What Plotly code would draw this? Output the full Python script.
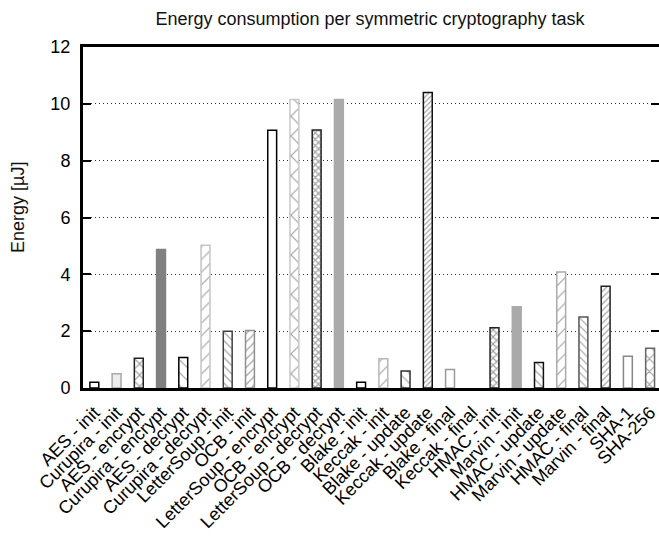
import plotly.graph_objects as go

# Tasks and measured energy (µJ)
tasks = [
    "AES - init", "Curupira - init", "AES - encrypt", "Curupira - encrypt",
    "AES - decrypt", "Curupira - decrypt", "LetterSoup - init", "OCB - init",
    "LetterSoup - encrypt", "OCB - encrypt", "LetterSoup - decrypt", "OCB - decrypt",
    "Blake - init", "Keccak - init", "Blake - update", "Keccak - update",
    "Blake - final", "Keccak - final", "HMAC - init", "Marvin - init",
    "HMAC - update", "Marvin - update", "HMAC - final", "Marvin - final",
    "SHA-1", "SHA-256",
]
energy = [
    0.2, 0.5, 1.05, 4.87,
    1.07, 5.02, 2.0, 2.02,
    9.07, 10.15, 9.08, 10.15,
    0.2, 1.03, 0.6, 10.4,
    0.65, 0.0, 2.12, 2.86,
    0.9, 4.08, 2.5, 3.58,
    1.12, 1.4,
]

# Per-bar fill style (gnuplot-like monochrome patterns)
fill_color = [
    "white", "#ececec", "white", "#808080",
    "white", "white", "white", "white",
    "white", "white", "white", "#aaaaaa",
    "white", "white", "white", "white",
    "white", "white", "white", "#aaaaaa",
    "white", "white", "white", "white",
    "white", "white",
]
edge_color = [
    "#000000", "#a8a8a8", "#222222", "#808080",
    "#000000", "#c4c4c4", "#404040", "#909090",
    "#000000", "#c8c8c8", "#202020", "#aaaaaa",
    "#000000", "#b8b8b8", "#303030", "#111111",
    "#999999", "#999999", "#222222", "#aaaaaa",
    "#111111", "#aaaaaa", "#555555", "#222222",
    "#888888", "#666666",
]
pattern_shape = [
    "", "", "x", "",
    "\\", "/", "\\", "/",
    "", "x", "x", "",
    "", "/", "\\", "/",
    "", "", "x", "",
    "\\", "/", "\\", "/",
    "", "x",
]
pattern_size = [
    8, 8, 8, 8,
    9, 9, 6, 6,
    8, 14, 4.5, 8,
    8, 9, 7, 3.6,
    8, 8, 5, 8,
    6.5, 9, 5.5, 4.5,
    8, 9,
]
line_px = 1.2
pattern_solidity = []
for shp, sz in zip(pattern_shape, pattern_size):
    if shp == "x":
        pattern_solidity.append(round(min(0.9, 1 - (1 - line_px / sz) ** 2), 3))
    else:
        pattern_solidity.append(round(min(0.9, line_px / sz), 3))

y_ticks = [0, 2, 4, 6, 8, 10, 12]

W, H = 659, 536
L, R, T, B = 83, 0, 47, 148
plot_w = W - L - R

# zero-height bars get no outline
edge_width = [1.5 if v > 0 else 0 for v in energy]

fig = go.Figure()
fig.add_trace(go.Bar(
    x=tasks,
    y=energy,
    width=0.4,
    marker=dict(
        color=fill_color,
        line=dict(color=edge_color, width=edge_width),
        pattern=dict(
            shape=pattern_shape,
            size=pattern_size,
            solidity=pattern_solidity,
            fgcolor=edge_color,
            fillmode="overlay",
        ),
    ),
    showlegend=False,
    hoverinfo="x+y",
))
# carries the mirrored tick marks on the right side
fig.add_trace(go.Scatter(x=[], y=[], yaxis="y2", showlegend=False, hoverinfo="skip"))

font_family = "Liberation Sans, Arial, Helvetica, sans-serif"

fig.update_layout(
    width=W,
    height=H,
    margin=dict(l=L, r=R, t=T, b=B, pad=0),
    paper_bgcolor="white",
    plot_bgcolor="white",
    font=dict(family=font_family, color="black", size=18),
    title=dict(
        text="Energy consumption per symmetric cryptography task",
        font=dict(size=18, color="#111111"),
        x=(370 - L) / plot_w, xanchor="center", xref="paper",
        y=1 - 19 / H, yanchor="middle", yref="container",
    ),
    xaxis=dict(
        type="category",
        range=[-0.51, 25.4],
        tickangle=-45,
        tickfont=dict(size=18),
        ticks="",
        ticklabelstandoff=4,
        showgrid=False,
        showline=True,
        linecolor="black",
        linewidth=3,
        mirror=True,
        zeroline=False,
    ),
    yaxis=dict(
        range=[0, 12],
        tickvals=y_ticks,
        tickfont=dict(size=18),
        ticks="inside",
        ticklen=8,
        tickwidth=2,
        tickcolor="black",
        ticklabelstandoff=6,
        showline=True,
        linecolor="black",
        linewidth=3,
        mirror=False,
        showgrid=True,
        gridcolor="#333333",
        gridwidth=1,
        griddash="1px,3px",
        zeroline=False,
    ),
    yaxis2=dict(
        overlaying="y",
        side="right",
        range=[0, 12],
        tickvals=y_ticks,
        ticks="inside",
        ticklen=8,
        tickwidth=2,
        tickcolor="black",
        showticklabels=False,
        showgrid=False,
        showline=False,
        zeroline=False,
    ),
    annotations=[
        dict(
            text="Energy [µJ]",
            textangle=-90,
            xref="paper", yref="paper",
            x=(18 - L) / plot_w, y=(388 - 208) / (388 - 47),
            xanchor="center", yanchor="middle",
            showarrow=False,
            font=dict(size=18, color="#111111"),
        )
    ],
)

fig.write_html("out.html")
